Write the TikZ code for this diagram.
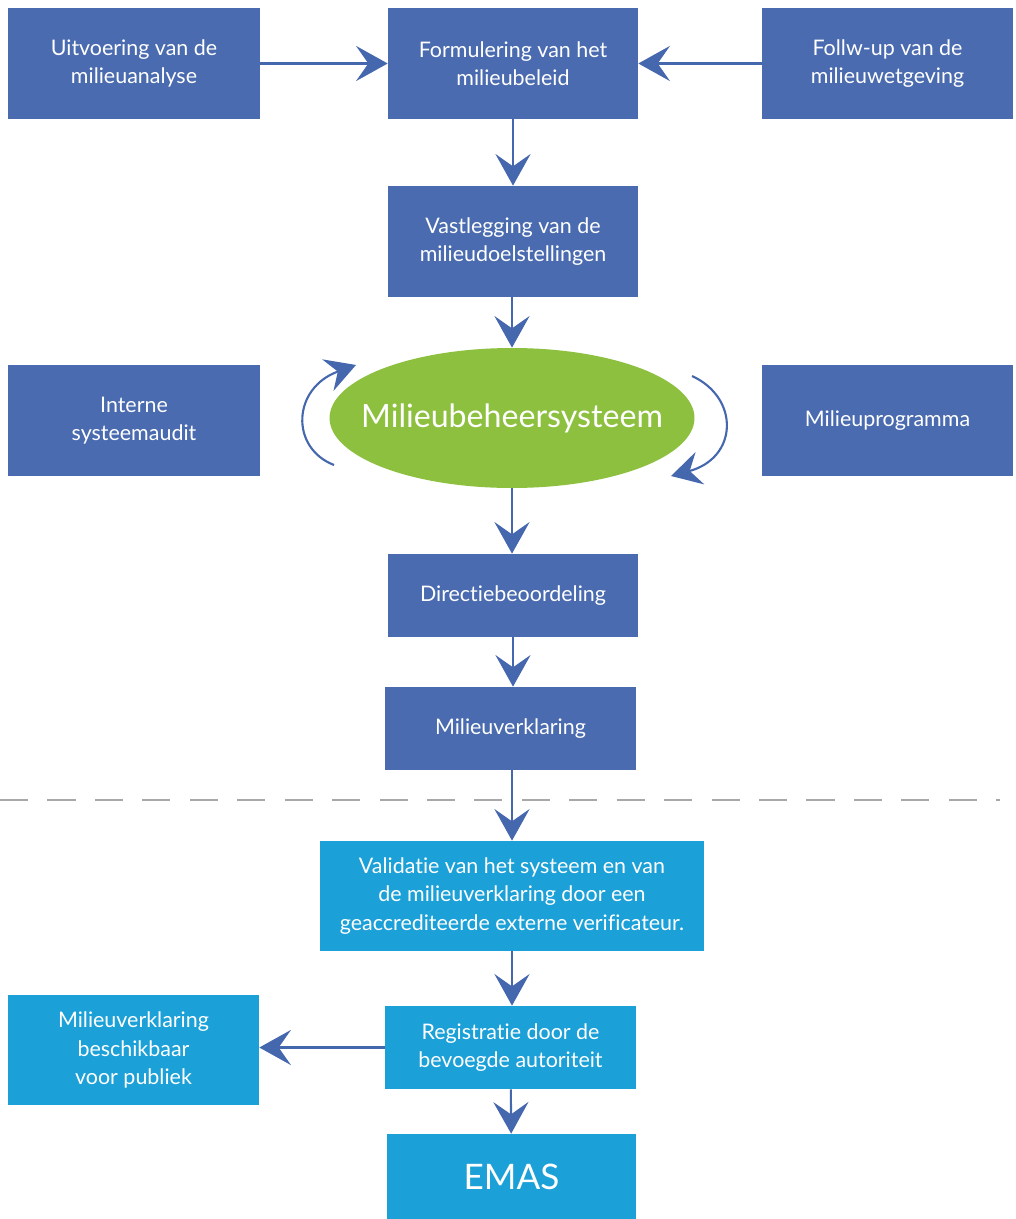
\documentclass[tikz,border=0pt]{standalone}
\usepackage{fontspec}
\setmainfont[Ligatures=NoCommon]{Lato}
\usetikzlibrary{arrows.meta,shapes.geometric}
\definecolor{dblue}{HTML}{4A6BAF}
\definecolor{lblue}{HTML}{1BA0D8}
\definecolor{lgreen}{HTML}{8DC03F}
\definecolor{arrc}{HTML}{4467AE}
\definecolor{dashc}{HTML}{A8A8A8}
\tikzset{
  box/.style={rectangle, fill=dblue, text=white, align=center, inner sep=0pt,
    font=\fontsize{12.2}{16}\selectfont},
  lbox/.style={box, fill=lblue},
  arr/.style={draw=arrc, line width=1.2pt,
    -{Stealth[length=18pt,width=20pt,inset=7pt]}},
  carr/.style={draw=arrc, line width=1.2pt,
    -{Stealth[length=17pt,width=19pt,inset=6pt]}}
}
\begin{document}
\begin{tikzpicture}[x=0.02cm,y=-0.02cm]
\useasboundingbox (0,0) rectangle (1016,1219);
\node[box, minimum width=5.04cm, minimum height=2.22cm] (A) at (134,63.5) {Uitvoering van de\\milieuanalyse};
\node[box, minimum width=5.0cm, minimum height=2.22cm] (B) at (513,63.5) {Formulering van het\\milieubeleid};
\node[box, minimum width=5.02cm, minimum height=2.22cm] (C) at (887.5,63.5) {Follw-up van de\\milieuwetgeving};
\node[box, minimum width=5.0cm, minimum height=2.22cm] (D) at (513,241.5) {Vastlegging van de\\milieudoelstellingen};
\node[ellipse, fill=lgreen, minimum width=7.3cm, minimum height=2.8cm, inner sep=0pt] (M) at (512,418) {};
\node[text=white, inner sep=0pt, font=\fontsize{18.3}{22}\selectfont] (Mt) at (M.center) {Milieubeheersysteem};
\node[box, minimum width=5.04cm, minimum height=2.22cm] (E) at (134,420.5) {Interne\\systeemaudit};
\node[box, minimum width=5.02cm, minimum height=2.22cm] (F) at (887.5,420.5) {Milieuprogramma};
\node[box, minimum width=5.0cm, minimum height=1.66cm] (G) at (513,595.5) {Directiebeoordeling};
\node[box, minimum width=5.02cm, minimum height=1.66cm] (H) at (510.5,728.5) {Milieuverklaring};
\node[lbox, minimum width=7.68cm, minimum height=2.2cm] (I) at (512,896) {Validatie van het systeem en van\\de milieuverklaring door een\\geaccrediteerde externe verificateur.};
\node[lbox, minimum width=5.02cm, minimum height=1.66cm] (J) at (510.5,1047.5) {Registratie door de\\bevoegde autoriteit};
\node[lbox, minimum width=5.02cm, minimum height=2.2cm] (K) at (133.5,1050) {Milieuverklaring\\beschikbaar\\voor publiek};
\node[lbox, minimum width=4.98cm, minimum height=1.7cm, font=\fontsize{20}{24}\selectfont] (L) at (511.5,1176.5) {EMAS};
\draw[dashc, line width=1.3pt, dash pattern=on 16pt off 11pt] (0,800) -- (1000,800);
\draw[arr] (A.east) -- (B.west);
\draw[arr] (C.west) -- (B.east);
\draw[arr] (B) -- (D);
\draw[arr] (D.south -| M.north) -- (M.north);
\draw[arr] (M.south) -- (M.south |- G.north);
\draw[arr] (G.south) -- (G.south |- H.north);
\draw[arr] (H.south -| I.north) -- (I.north);
\draw[arr] (I.south) -- (I.south |- J.north);
\draw[arr] (J.west) -- (J.west -| K.east);
\draw[arr] (J) -- (L);
\coordinate (l1) at (334,465);
\coordinate (l2) at (356,365);
\coordinate (r1) at (692,376);
\coordinate (r2) at (671,476);
\draw[carr] (l1) .. controls (290,448) and (292,388) .. (l2);
\draw[carr] (r1) .. controls (740,398) and (738,458) .. (r2);
\end{tikzpicture}
\end{document}
